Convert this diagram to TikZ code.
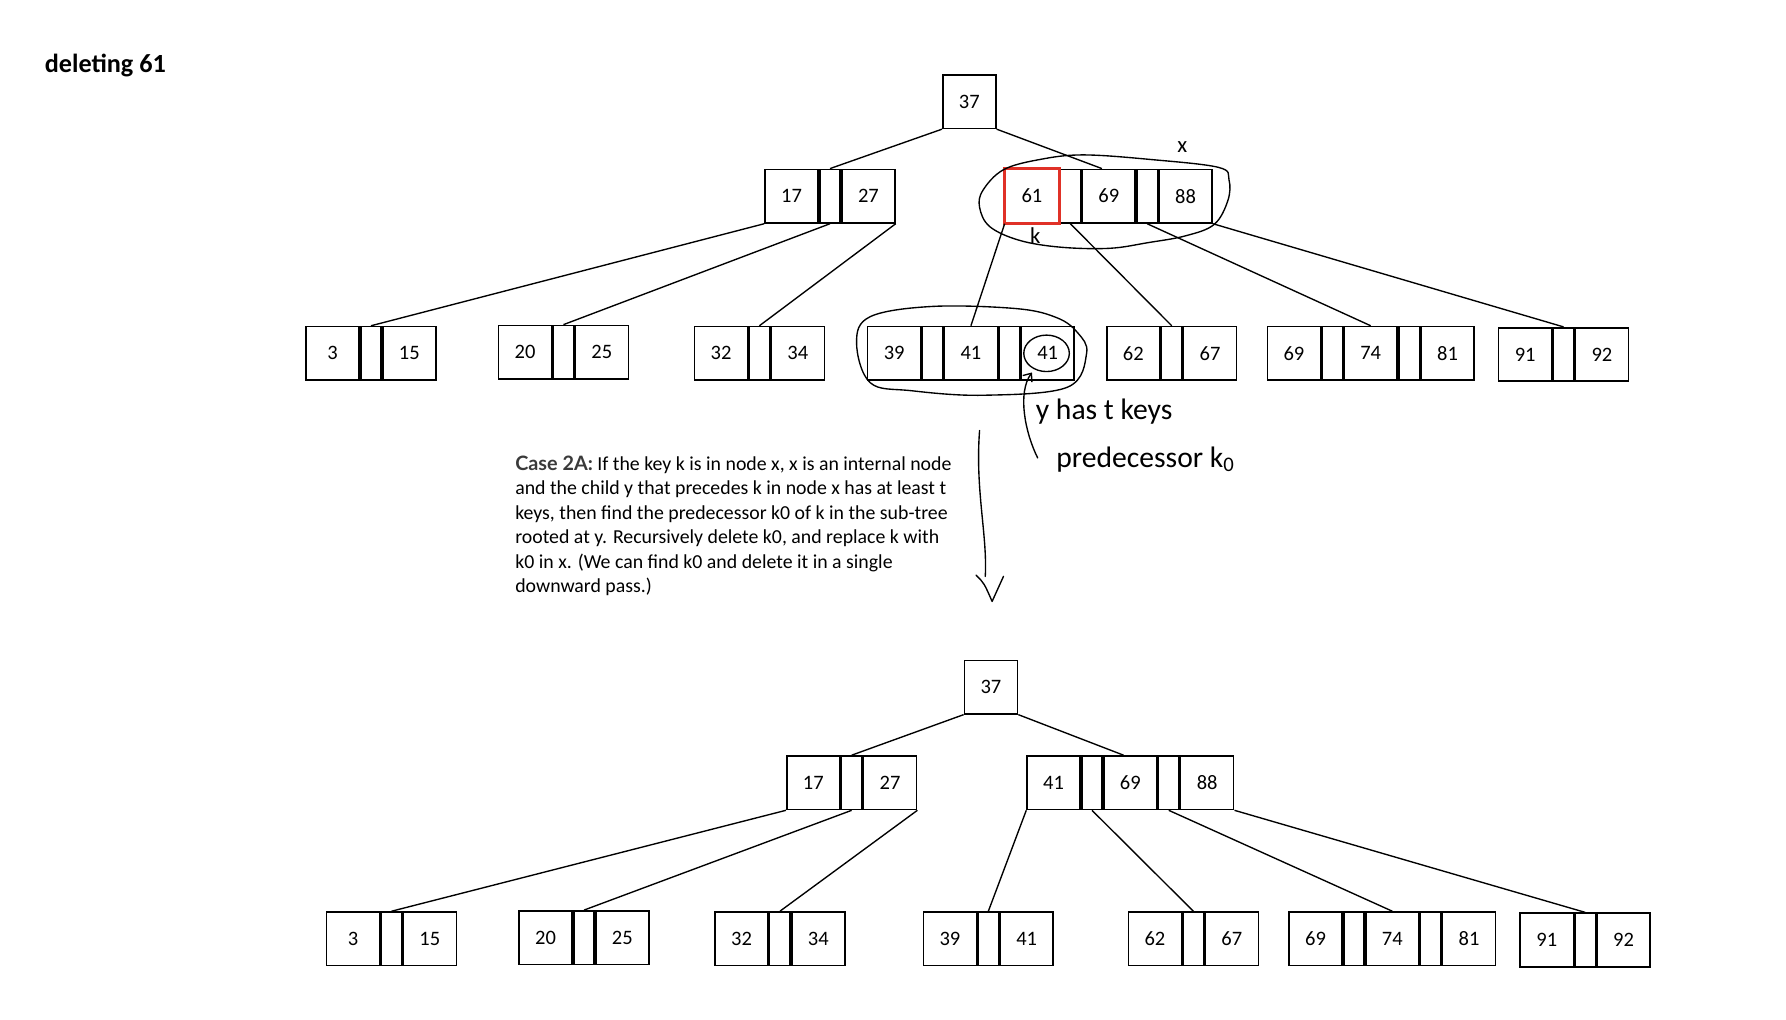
\documentclass[tikz,border=0pt]{standalone}
\usepackage{fontspec}
\setmainfont{Carlito}
\newfontfamily\latofont{Lato}
\usetikzlibrary{calc,arrows.meta}
\definecolor{keyred}{HTML}{E03127}
\definecolor{casegray}{HTML}{3A3A3A}
\newcommand{\bkone}[3]{\node[keybox] (#1) at (#2) {#3};}
\newcommand{\bktwo}[4]{%
  \node[keybox] (#1a) at (#2) {#3};
  \node[sepbox] (#1s) at (#1a.north east) {};
  \node[keybox] (#1b) at (#1s.north east) {#4};}
\newcommand{\bkthree}[5]{%
  \node[keybox] (#1a) at (#2) {#3};
  \node[sepbox] (#1s1) at (#1a.north east) {};
  \node[keybox] (#1b) at (#1s1.north east) {#4};
  \node[sepbox] (#1s2) at (#1b.north east) {};
  \node[keybox] (#1c) at (#1s2.north east) {#5};}
\begin{document}
\begin{tikzpicture}[x=0.5pt,y=-0.5pt,
  keybox/.style={draw, line width=0.7pt, minimum width=23.3pt, minimum height=23.5pt,
    inner sep=0pt, anchor=north west, font=\fontsize{9}{10}\selectfont},
  sepbox/.style={draw, line width=0.7pt, minimum width=9pt, minimum height=23.5pt,
    inner sep=0pt, anchor=north west},
  edge/.style={line width=0.6pt},
  hand/.style={line width=0.6pt, line cap=round, line join=round},
  handtext/.style={inner sep=0pt, anchor=base west, font=\fontsize{13}{14}\selectfont}]
\useasboundingbox (0,0) rectangle (1568,895);

% title
\node[anchor=base west, inner sep=0pt, font=\fontsize{11.5}{13}\selectfont\bfseries] (title) at (39,64) {deleting 61};

% ---------- top tree ----------
\bkone{t0}{827,65}{37}
\bktwo{t1l}{671,148}{17}{27}
\bkthree{t1r}{882,148}{61}{69}{88}
\bktwo{t2a}{268,286}{3}{15}
\bktwo{t2b}{437,285}{20}{25}
\bktwo{t2c}{609,286}{32}{34}
\bkthree{t2d}{761,286}{39}{41}{41}
\bktwo{t2e}{971,286}{62}{67}
\bkthree{t2f}{1112,286}{69}{74}{81}
\bktwo{t2g}{1315,287}{91}{92}
\draw[keyred, line width=1.2pt] (t1ra.north west) rectangle (t1ra.south east);

\draw[edge] (t0.south west) -- (t1ls.north);
\draw[edge] (t0.south east) -- ($(t1rb.north west)+(18,0)$);
\draw[edge] (t1la.south west) -- (t2as.north);
\draw[edge] (t1ls.south) -- (t2bs.north);
\draw[edge] (t1lb.south east) -- (t2cs.north);
\draw[edge] (t1ra.south west) -- (t2db.north);
\draw[edge] (t1rs1.south) -- (t2es.north);
\draw[edge] (t1rs2.south) -- (t2fb.north);
\draw[edge] (t1rc.south east) -- (t2gs.north);

% ---------- bottom tree ----------
\bkone{b0}{846,579}{37}
\bktwo{b1l}{690,663}{17}{27}
\bkthree{b1r}{901,663}{41}{69}{88}
\bktwo{b2a}{286,800}{3}{15}
\bktwo{b2b}{455,799}{20}{25}
\bktwo{b2c}{627,800}{32}{34}
\bktwo{b2d}{810,800}{39}{41}
\bktwo{b2e}{990,800}{62}{67}
\bkthree{b2f}{1131,800}{69}{74}{81}
\bktwo{b2g}{1334,801}{91}{92}

\draw[edge] (b0.south west) -- (b1ls.north);
\draw[edge] (b0.south east) -- ($(b1rb.north west)+(18,0)$);
\draw[edge] (b1la.south west) -- (b2as.north);
\draw[edge] (b1ls.south) -- (b2bs.north);
\draw[edge] (b1lb.south east) -- (b2cs.north);
\draw[edge] (b1ra.south west) -- (b2ds.north);
\draw[edge] (b1rs1.south) -- (b2es.north);
\draw[edge] (b1rs2.south) -- (b2fb.north);
\draw[edge] (b1rc.south east) -- (b2gs.north);

% ---------- explanation ----------
\node[anchor=north west, align=left, inner sep=0pt, font=\fontsize{8.7}{10.7}\selectfont] (casetext) at (452,400)
{{\latofont\bfseries\color{casegray}Case 2A:} If the key k is in node x, x is an internal node\\
and the child y that precedes k in node x has at least t\\
keys, then find the predecessor k0 of k in the sub-tree\\
rooted at y. Recursively delete k0, and replace k with\\
k0 in x. (We can find k0 and delete it in a single\\
downward pass.)};

% ---------- handwritten annotations ----------
\draw[hand] plot[smooth cycle, tension=0.6] coordinates {
 (1070,147) (1010,140) (951,136) (913,140) (881,149) (863,167) (860,182) (869,199)
 (895,211) (931,217) (974,218) (1008,213) (1041,207) (1066,197) (1078,176) (1079,158)};
\node[inner sep=0pt, font=\fontsize{10}{11}\selectfont] (xmark) at (1038,129) {x};
\node[inner sep=0pt, font=\fontsize{10}{11}\selectfont] (kmark) at (909,207) {k};

\draw[hand] plot[smooth cycle, tension=0.6] coordinates {
 (764,278) (819,269) (893,271) (928,279) (946,292) (954,310) (937,340) (863,347)
 (800,343) (764,336) (752,301)};
\draw[hand] ($(t2dc.center)+(-1,0)$) ellipse [x radius=20, y radius=16];

\draw[hand, -{Straight Barb[length=3pt, width=5pt]}] (911,402) .. controls (900,380) and (893,345) .. (906,327);

\node[handtext] (yhas) at (909,368) {y has t keys};
\node[handtext] (pred) at (927,410) {predecessor k\textsubscript{0}};

\draw[hand] (860,378) .. controls (856,430) and (867,470) .. (865,506);
\draw[hand] (857,505) .. controls (864,512) .. (871,528) -- (881,506);
\end{tikzpicture}
\end{document}
